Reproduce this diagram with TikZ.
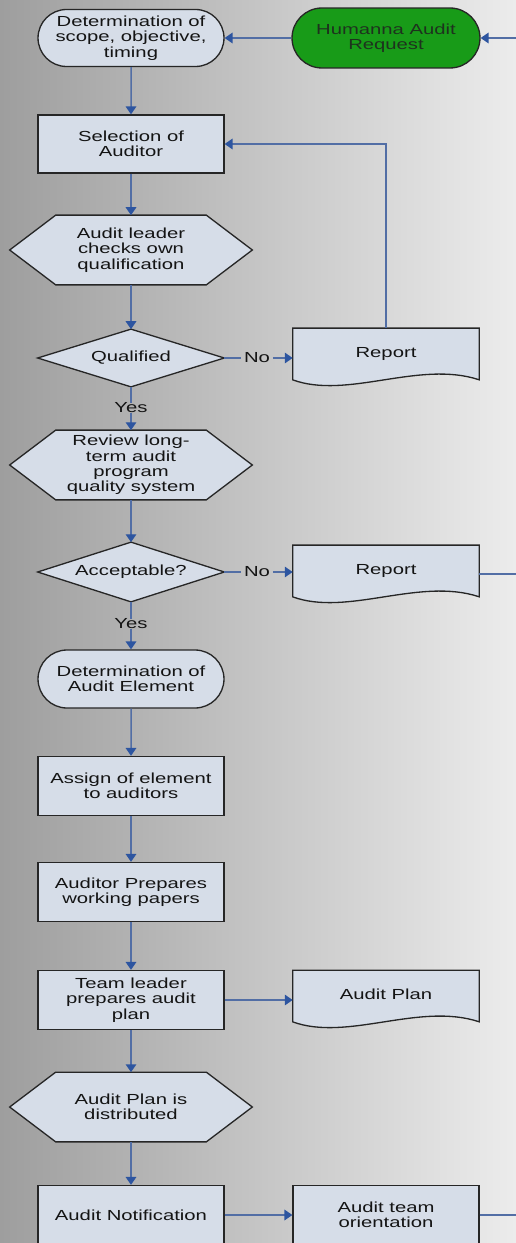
\documentclass[tikz,border=0pt]{standalone}
\usepackage{fontspec}
\newfontfamily\chartfont[FakeStretch=1.39]{Liberation Sans}
\usetikzlibrary{arrows.meta,shapes.misc,calc}

\definecolor{boxfill}{RGB}{214,221,232}
\definecolor{edgecol}{RGB}{38,38,38}
\definecolor{inkcol}{RGB}{20,20,20}
\definecolor{linecol}{RGB}{82,110,165}
\definecolor{tipcol}{RGB}{45,85,160}
\definecolor{reqgreen}{RGB}{24,155,24}
\definecolor{reqink}{RGB}{30,50,30}
\definecolor{bgleft}{RGB}{158,158,158}
\definecolor{bgmid}{RGB}{205,205,205}
\definecolor{bgright}{RGB}{236,236,236}

\pgfdeclarelayer{backdrop}
\pgfdeclarelayer{outlines}
\pgfsetlayers{backdrop,outlines,main}

% outlines drawn behind the text of a plain rectangular node
\newcommand\hexoutline[1]{%
  \path[shapeline] (#1.west) -- ($(#1.north west)+(46,0)$) -- ($(#1.north east)+(-46,0)$)
    -- (#1.east) -- ($(#1.south east)+(-46,0)$) -- ($(#1.south west)+(46,0)$) -- cycle;}
\newcommand\diamondoutline[1]{%
  \path[shapeline] (#1.west) -- (#1.north) -- (#1.east) -- (#1.south) -- cycle;}
\newcommand\docoutline[1]{%
  \path[shapeline] (#1.north west) -- (#1.north east) -- (#1.south east)
    .. controls +(-60,-20) and +(55,20) .. (#1.south west) -- cycle;}

\begin{document}
\begin{tikzpicture}[x=0.02cm,y=-0.02cm,
  every node/.style={font=\chartfont\fontsize{8.3}{8.7}\selectfont, text=inkcol,
    align=center, inner sep=0pt},
  box/.style={draw=edgecol, line width=0.75pt, fill=boxfill,
    minimum width=3.72cm, minimum height=1.18cm},
  term/.style={rounded rectangle, draw=edgecol, line width=0.75pt, fill=boxfill,
    minimum width=3.72cm, minimum height=1.14cm},
  hexa/.style={minimum width=4.84cm, minimum height=1.38cm},
  decision/.style={minimum width=3.72cm, minimum height=1.14cm},
  document/.style={minimum width=3.72cm, minimum height=1.02cm},
  answer/.style={inner xsep=1.5pt},
  shapeline/.style={draw=edgecol, line width=0.75pt, fill=boxfill},
  flow/.style={draw=linecol, line width=0.85pt,
    -{Triangle[length=4.5pt,width=6pt,color=tipcol]}},
  link/.style={draw=linecol, line width=0.85pt}]

\begin{pgfonlayer}{backdrop}
  \shade[left color=bgleft, middle color=bgmid, right color=bgright]
    (0,0) rectangle (516,1243);
\end{pgfonlayer}
\useasboundingbox (0,0) rectangle (516,1243);

% main column
\node[term] (scope) at (131,38) {Determination of\\scope, objective,\\timing};
\node[term, fill=reqgreen, text=reqink, minimum width=3.76cm, minimum height=1.2cm]
  (req) at (386,38) {Humanna Audit\\Request};
\node[box, minimum height=1.16cm] (select) at (131,144) {Selection of\\Auditor};
\node[hexa] (checkq) at (131,250) {Audit leader\\checks own\\qualification};
\node[decision] (qual) at (131,358) {Qualified};
\node[document] (report1) at (386,354) {\raisebox{2pt}{Report}};
\node[answer] (no1) at (257,358) {No};
\node[answer] (yes1) at (131,408) {Yes};
\node[hexa] (review) at (131,465) {Review long-\\term audit\\program\\quality system};
\node[decision, minimum height=1.18cm] (accept) at (131,572) {Acceptable?};
\node[document] (report2) at (386,571) {\raisebox{2pt}{Report}};
\node[answer] (no2) at (257,572) {No};
\node[answer] (yes2) at (131,624) {Yes};
\node[term, minimum height=1.16cm] (element) at (131,679) {Determination of\\Audit Element};
\node[box] (assign) at (131,786) {Assign of element\\to auditors};
\node[box] (papers) at (131,892) {Auditor Prepares\\working papers};
\node[box] (plan) at (131,1000) {Team leader\\prepares audit\\plan};
\node[document] (auditplan) at (386,996) {\raisebox{2pt}{Audit Plan}};
\node[hexa] (distrib) at (131,1107) {Audit Plan is\\distributed};
\node[box] (notify) at (131,1215) {Audit Notification};
\node[box] (orient) at (386,1215) {Audit team\\orientation};

% loose ends at the right margin
\coordinate (inflow) at (516,38);
\coordinate (outflow2) at (516,574);
\coordinate (outflow3) at (516,1215);

\begin{pgfonlayer}{outlines}
  \hexoutline{checkq}
  \hexoutline{review}
  \hexoutline{distrib}
  \diamondoutline{qual}
  \diamondoutline{accept}
  \docoutline{report1}
  \docoutline{report2}
  \docoutline{auditplan}
\end{pgfonlayer}

% connectors
\draw[flow] (inflow) -- (req.east);
\draw[flow] (req.west) -- (scope.east);
\draw[flow] (scope) -- (select);
\draw[flow] (report1.north) |- (select.east);
\draw[flow] (select) -- (checkq.north);
\draw[flow] (checkq.south) -- (qual.north);
\draw[link] (qual.east) -- (no1.west);
\draw[flow] (no1.east) -- (no1.east -| report1.west);
\draw[link] (qual.south) -- (yes1.north);
\draw[flow] (yes1.south) -- (review.north);
\draw[flow] (review.south) -- (accept.north);
\draw[link] (accept.east) -- (no2.west);
\draw[flow] (no2.east) -- (no2.east -| report2.west);
\draw[link] (outflow2 -| report2.east) -- (outflow2);
\draw[link] (accept.south) -- (yes2.north);
\draw[flow] (yes2.south) -- (element.north);
\draw[flow] (element) -- (assign);
\draw[flow] (assign) -- (papers);
\draw[flow] (papers) -- (plan);
\draw[flow] (plan.east) -- (plan.east -| auditplan.west);
\draw[flow] (plan) -- (distrib.north);
\draw[flow] (distrib.south) -- (notify.north);
\draw[flow] (notify) -- (orient);
\draw[link] (orient.east) -- (outflow3);
\end{tikzpicture}
\end{document}
